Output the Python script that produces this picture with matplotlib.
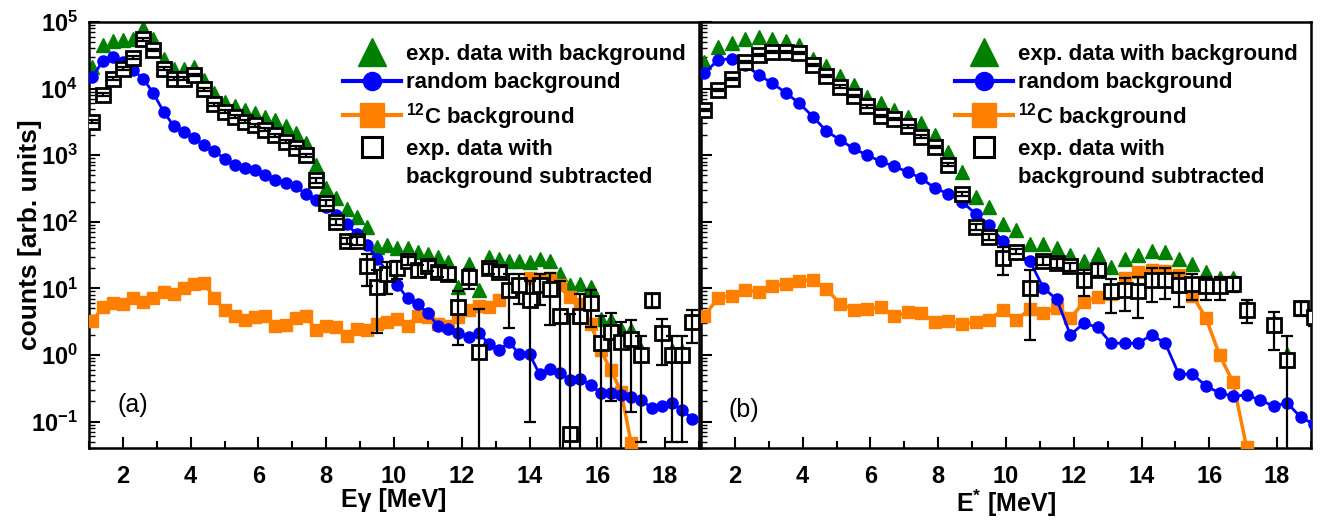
import numpy as np
import matplotlib
matplotlib.use('Agg')
import matplotlib.pyplot as plt
import matplotlib.lines as mlines
from matplotlib.ticker import MultipleLocator, LogLocator, FixedLocator, NullFormatter

plt.rcParams['font.family'] = ['Liberation Sans', 'DejaVu Sans']
plt.rcParams['font.weight'] = 'bold'
plt.rcParams['mathtext.fontset'] = 'custom'
plt.rcParams['mathtext.rm'] = 'Liberation Sans'
plt.rcParams['mathtext.bf'] = 'Liberation Sans:bold'

nan = np.nan

# ---- panel (a): counts vs E_gamma, 0.3 MeV bins ----
e_gamma = np.round(np.arange(1.1, 18.81, 0.3), 2)

a_total = [21400, 44700, 51300, 53700, 56200, 81300, 55000, 28200, 20000, 20000,
           21400, 13500, 8500, 6300, 5400, 4800, 4300, 3800, 3400, 2700,
           2140, 1510, 710, 316, 224, 158, 117, 83, 42, 45,
           40, 40, 35, 33, 30, 25, 10.5, 23.4, 9.3, 30,
           28, 26, 26, 25, 28, 26, 16.6, 11.2, 11.7, 10.5,
           3.5, 3.3, 2.45, 2.35, 1.2, 6.8, 2.3, 1.2, 1.15, 3.2]
a_random = [14800, 25700, 29500, 25100, 19000, 14100, 8500, 4500, 2750, 2240,
            1820, 1410, 1150, 890, 720, 650, 590, 510, 420, 380,
            340, 260, 210, 166, 126, 91, 66, 45, 28, 17.8,
            11.2, 7.1, 5.9, 4.2, 2.75, 2.45, 2.1, 1.86, 2.1, 1.48,
            1.17, 1.55, 1.02, 1.02, 0.51, 0.62, 0.54, 0.42, 0.44, 0.35,
            0.27, 0.27, 0.25, 0.23, 0.21, 0.16, 0.17, 0.19, 0.15, 0.11]
a_carbon = [3.2, 5.2, 6.0, 5.9, 7.1, 6.2, 7.1, 8.7, 8.3, 10.2,
            11.5, 12.0, 7.1, 4.7, 3.9, 3.4, 3.7, 3.9, 2.75, 2.8,
            3.6, 3.8, 2.4, 2.75, 2.6, 1.95, 2.45, 2.35, 2.95, 3.1,
            3.5, 2.75, 3.9, 3.7, 2.95, 2.75, 3.7, 4.7, 5.5, 5.2,
            6.6, 9.3, 11.2, 14.1, 13.8, 14.5, 11.2, 7.4, 5.9, 2.95,
            1.17, 0.59, 0.28, 0.047]
a_sub = [3200, 8100, 14000, 20000, 29000, 55000, 38000, 20000, 14000, 14000,
         16000, 9800, 5800, 4500, 3800, 3200, 2800, 2400, 2000, 1600,
         1300, 1000, 420, 190, 100, 52, 52, 22, 10.5, 16.6,
         20, 26, 18.6, 22, 17.8, 16.6, 5.2, 14.8, 1.1, 20,
         17.8, 9.5, 11.2, 6.6, 11.2, 9.8, 3.9, 0.065, 3.9, 6.0,
         1.5, 2.2, 1.55, 1.74, 1.0, 6.6, 2.1, 1.0, 1.0, 3.1]
a_sub_err = [160, 400, 700, 1000, 1500, 2700, 1900, 1000, 700, 700,
             800, 490, 290, 220, 190, 160, 140, 120, 100, 80,
             65, 50, 40, 19, 10, 6, 8, 11, 8.4, 8.5,
             6, 3.5, 4, 3.6, 3.2, 3.4, 3.8, 5, 3.8, 3.4,
             3.2, 7, 5.4, 6.5, 5.5, 7, 9, 4.1, 4.4, 3.4,
             2.4, 2.0, 1.6, 1.6, 0.95, 1.6, 1.4, 0.95, 0.95, 1.6]

# ---- panel (b): counts vs E*, 0.4 MeV bins ----
e_star = np.round(np.arange(1.1, 19.11, 0.4), 2)

b_total = [25100, 42700, 47900, 56200, 60300, 56200, 51300, 45700, 28200, 21900,
           15500, 11200, 7600, 6000, 4800, 3800, 3000, 2000, 1120, 560,
           234, 166, 93, 74, 47, 47, 41, 32, 26, 33,
           21, 28, 32, 37, 35, 28, 23.4, 17.8, 14.1, 14.1,
           5.5, nan, 3.1, 1.05, 5.2, 4.0]
b_random = [17000, 26900, 28200, 22400, 16200, 12000, 8700, 6000, 3800, 2300,
            1700, 1260, 1000, 810, 680, 560, 450, 320, 263, 200,
            132, 89, 52, 33, 26, 10.2, 6.8, 2.0, 3.0, 2.6,
            1.5, 1.5, 1.5, 2.0, 1.5, 0.51, 0.52, 0.34, 0.27, 0.24,
            0.25, 0.21, 0.17, 0.19, 0.115, 0.091]
b_carbon = [3.9, 7.1, 7.8, 9.5, 8.7, 10.7, 11.5, 12.9, 13.5, 9.8,
            5.9, 4.8, 4.9, 5.2, 3.8, 4.4, 4.3, 3.1, 3.2, 2.95,
            3.1, 3.4, 4.7, 3.3, 4.9, 4.2, 5.1, 3.6, 6.2, 7.4,
            8.3, 14.1, 17.8, 18.6, 18.2, 15.8, 7.8, 3.6, 1.0, 0.39,
            0.041]
b_sub = [4800, 9500, 14100, 25100, 31600, 35500, 35500, 33900, 22400, 15500,
         10700, 7800, 5400, 3900, 3500, 2700, 1900, 1320, 720, 263,
         83, 60, 28.8, 35.5, 10.2, 25.7, 24.0, 21.4, 13.2, 19.1,
         9.1, 9.5, 9.1, 13.2, 13.5, 11.2, 11.7, 10.7, 10.7, 11.7,
         4.8, nan, 2.8, 0.85, 5.1, 3.7]
b_sub_err = [190, 380, 560, 1000, 1260, 1400, 1400, 1350, 900, 620,
             430, 310, 220, 160, 140, 110, 80, 55, 40, 20,
             8, 6, 13, 3, 8.5, 3.5, 3.5, 3, 5.6, 4,
             4.8, 5, 5.5, 7, 6.5, 6, 5, 4, 4, 3,
             1.8, nan, 1.6, 1.1, 1.2, 1.0]

GREEN = '#008000'
BLUE = '#0000FF'
ORANGE = '#FF8000'

ytick_vals = [1e-1, 1e0, 1e1, 1e2, 1e3, 1e4, 1e5]
ytick_labels = [r'$\mathbf{10^{-1}}$', r'$\mathbf{10^{0}}$', r'$\mathbf{10^{1}}$',
                r'$\mathbf{10^{2}}$', r'$\mathbf{10^{3}}$', r'$\mathbf{10^{4}}$',
                r'$\mathbf{10^{5}}$']


def draw_panel(ax, x, total, random, carbon, sub, sub_err):
    total = np.array(total, dtype=float)
    random = np.array(random, dtype=float)
    carbon = np.array(carbon, dtype=float)
    sub = np.array(sub, dtype=float)
    err = np.array(sub_err, dtype=float)
    # lower bar can't go below zero on a log axis -> run it off the bottom
    low = np.where(err >= sub, sub * 0.999, err)

    ax.plot(x, total, ls='none', marker='^', ms=10.5, color=GREEN, zorder=2)
    ax.plot(x[:len(carbon)], carbon, '-', color=ORANGE, lw=2.5,
            marker='s', ms=8.5, mec=ORANGE, zorder=3)
    ax.plot(x, random, '-', color=BLUE, lw=2, marker='o', ms=8, zorder=4)
    ax.plot(x, sub, ls='none', marker='s', ms=9.5, mfc='white', mec='black',
            mew=2, zorder=5)
    ax.errorbar(x, sub, yerr=[low, err], fmt='none', ecolor='black',
                elinewidth=1.6, capsize=4.5, capthick=1.6, zorder=6)

    ax.set_xlim(1, 19)
    ax.set_yscale('log')
    ax.set_ylim(0.04, 1e5)
    ax.xaxis.set_major_locator(MultipleLocator(2))
    ax.xaxis.set_minor_locator(MultipleLocator(1))
    ax.yaxis.set_major_locator(FixedLocator(ytick_vals))
    ax.yaxis.set_minor_locator(LogLocator(base=10, subs=np.arange(2, 10), numticks=20))
    ax.yaxis.set_minor_formatter(NullFormatter())
    ax.tick_params(axis='x', which='major', direction='in', length=8, width=1.5,
                   top=False, labelsize=17, pad=12.5)
    ax.tick_params(axis='x', which='minor', direction='in', length=5, width=1.5, top=False)
    ax.tick_params(axis='y', which='major', direction='in', length=8, width=1.5,
                   right=False, labelsize=17, pad=8)
    ax.tick_params(axis='y', which='minor', direction='in', length=4, width=1.0, right=False)
    for sp in ax.spines.values():
        sp.set_linewidth(1.8)

    handles = [
        mlines.Line2D([], [], ls='none', marker='^', ms=20, color=GREEN),
        mlines.Line2D([], [], color=BLUE, lw=3, marker='o', ms=13),
        mlines.Line2D([], [], color=ORANGE, lw=3, marker='s', ms=17),
        mlines.Line2D([], [], ls='none', marker='s', ms=15, mfc='white', mec='black', mew=2.2),
        mlines.Line2D([], [], ls='none'),
    ]
    labels = ['exp. data with background', 'random background',
              r'$\mathbf{^{12}}$C background', 'exp. data with',
              'background subtracted']
    ax.legend(handles, labels, loc='upper left', bbox_to_anchor=(0.416, 0.948),
              frameon=False, fontsize=16, handlelength=2.6, handletextpad=0.25,
              labelspacing=0.33, borderpad=0, borderaxespad=0)


fig = plt.figure(figsize=(13.29, 5.24), dpi=100)
ax1 = fig.add_axes([89 / 1329, 1 - 448 / 524, 610 / 1329, 426 / 524])
ax2 = fig.add_axes([701 / 1329, 1 - 448 / 524, 610 / 1329, 426 / 524])

draw_panel(ax1, e_gamma, a_total, a_random, a_carbon, a_sub, a_sub_err)
draw_panel(ax2, e_star, b_total, b_random, b_carbon, b_sub, b_sub_err)

ax1.set_yticklabels(ytick_labels)
ax2.set_yticklabels([])

ax1.set_ylabel('counts [arb. units]', fontsize=19, fontweight='bold')
ax1.yaxis.set_label_coords(-0.077, 0.5)
ax1.set_xlabel('E\u03b3 [MeV]', fontsize=18, fontweight='bold')
ax2.set_xlabel(r'E$\mathbf{^{*}}$ [MeV]', fontsize=18, fontweight='bold')
ax1.xaxis.set_label_coords(0.5, -0.093)
ax2.xaxis.set_label_coords(0.5, -0.093)

ax1.text(0.072, 0.10, '(a)', transform=ax1.transAxes, fontsize=18,
         fontweight='normal', ha='center', va='center')
ax2.text(0.07, 0.09, '(b)', transform=ax2.transAxes, fontsize=18,
         fontweight='normal', ha='center', va='center')

fig.savefig('out.png', dpi=100)
